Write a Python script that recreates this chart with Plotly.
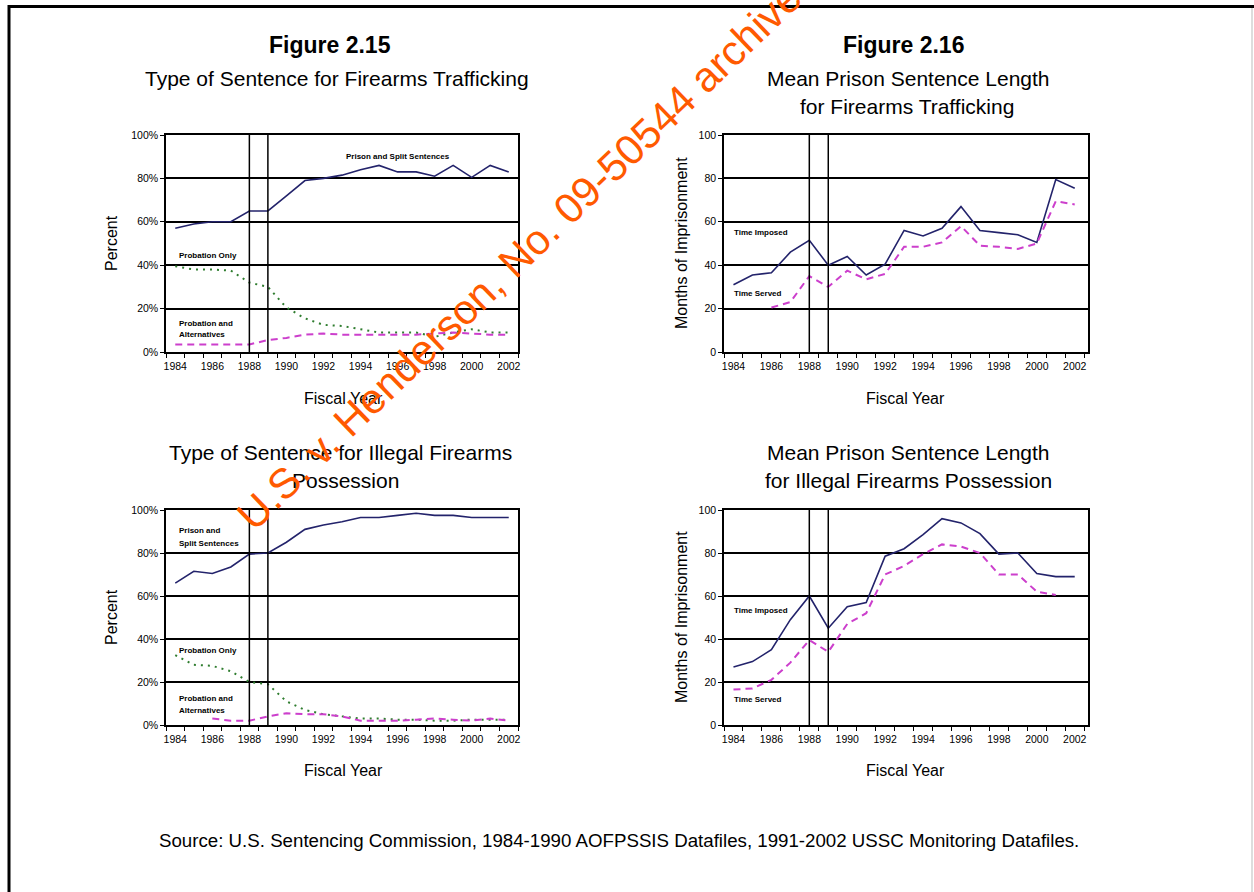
import plotly.graph_objects as go

W, H = 1254, 892

# ---------------- data ----------------
years = list(range(1984, 2003))
tick_years = list(range(1984, 2003, 2))
tick_labels = [str(y) for y in tick_years]
y_ticks = [0, 20, 40, 60, 80, 100]
pct_labels = ["0%", "20%", "40%", "60%", "80%", "100%"]
month_labels = ["0", "20", "40", "60", "80", "100"]
guideline_marks = [1988, 1989]

# Figure 2.15 (top): Type of Sentence for Firearms Trafficking (percent)
traf_prison = [57, 59, 60, 60, 65, 65, 72, 79, 80, 81.5, 84, 86, 83, 83, 81, 86, 80.5, 86, 83]
traf_prob_only = [39.5, 38, 38, 37.5, 32, 30, 20.5, 15.5, 12.5, 12, 10.5, 9, 9, 9, 7, 9, 10.5, 9, 9]
traf_prob_alt = [3.5, 3.5, 3.5, 3.5, 3.5, 5.5, 6.5, 8, 8.5, 8, 8, 8, 8, 8, 8.5, 9, 8.5, 8, 8]

# Figure 2.16 (top): Mean Prison Sentence Length for Firearms Trafficking (months)
traf_imposed = [31, 35.5, 36.5, 46, 51.5, 40, 44, 35.5, 40.5, 56, 53.5, 57, 67, 56, 55, 54, 50.5, 79.5, 75.5]
traf_served = [None, None, 20.5, 23, 35, 30, 37.5, 33.5, 36, 48.5, 48.5, 50.5, 58, 49, 48.5, 47.5, 50, 69.5, 68]

# Figure 2.15 (bottom): Type of Sentence for Illegal Firearms Possession (percent)
poss_prison = [66, 71.5, 70.5, 73.5, 79.5, 80, 85, 91, 93, 94.5, 96.5, 96.5, 97.5, 98.5, 97.5, 97.5, 96.5, 96.5, 96.5]
poss_prob_only = [32.5, 28, 27.5, 25, 20, 19, 11, 7, 5, 4, 3, 3, 2.5, 2.5, 2, 2, 2.5, 2.5, 2.5]
poss_prob_alt = [None, None, 3, 2, 2, 4, 5.5, 5, 5, 4, 2, 2, 2, 2.5, 3, 2.5, 2, 3, 2]

# Figure 2.16 (bottom): Mean Prison Sentence Length for Illegal Firearms Possession (months)
poss_imposed = [27, 29.5, 35, 49, 60, 45, 55, 57, 78.5, 82, 88.5, 96, 94, 89, 79.5, 80, 70.5, 69, 69]
poss_served = [16.5, 17, 21, 29, 39.5, 34, 47, 52, 70, 74, 79.5, 84, 83, 80, 70, 70, 62, 60.5, None]

# ---------------- styling ----------------
NAVY = "#23236b"
PINK = "#cc3fcc"
GREEN = "#2f7d2f"
FONT = "Liberation Sans, Arial, sans-serif"


def px(x):
    return x / W


def py(y):
    return 1 - y / H


panels = {
    1: dict(x=(166, 518), y=(135, 352), xr=[1983.5, 2002.5], labels=pct_labels),
    2: dict(x=(724, 1088), y=(135, 352), xr=[1983.5, 2002.7], labels=month_labels),
    3: dict(x=(166, 518), y=(510, 725), xr=[1983.5, 2002.5], labels=pct_labels),
    4: dict(x=(724, 1088), y=(510, 725), xr=[1983.5, 2002.7], labels=month_labels),
}

fig = go.Figure()

series = [
    (1, traf_prison, NAVY, "solid", 1.6),
    (1, traf_prob_only, GREEN, "2px,5px", 2),
    (1, traf_prob_alt, PINK, "7px,5px", 2),
    (2, traf_imposed, NAVY, "solid", 1.6),
    (2, traf_served, PINK, "7px,5px", 2),
    (3, poss_prison, NAVY, "solid", 1.6),
    (3, poss_prob_only, GREEN, "2px,5px", 2),
    (3, poss_prob_alt, PINK, "7px,5px", 2),
    (4, poss_imposed, NAVY, "solid", 1.6),
    (4, poss_served, PINK, "7px,5px", 2),
]

for p, vals, col, dash, w in series:
    sfx = "" if p == 1 else str(p)
    fig.add_trace(go.Scatter(
        x=years, y=vals, mode="lines",
        line=dict(color=col, width=w, dash=dash),
        xaxis="x" + sfx, yaxis="y" + sfx,
        showlegend=False, hoverinfo="skip",
    ))

layout = dict(
    template="none",
    width=W, height=H, autosize=False,
    margin=dict(l=0, r=0, t=0, b=0, pad=0, autoexpand=False),
    paper_bgcolor="white", plot_bgcolor="white",
    showlegend=False,
    font=dict(family=FONT, color="black"),
)

shapes = []
for p, d in panels.items():
    sfx = "" if p == 1 else str(p)
    layout["xaxis" + sfx] = dict(
        domain=[px(d["x"][0]), px(d["x"][1])],
        anchor="y" + sfx,
        range=d["xr"],
        automargin=False,
        tickvals=tick_years, ticktext=tick_labels,
        tickfont=dict(family=FONT, size=10.5, color="black"),
        ticklabelstandoff=4,
        ticks="", showgrid=False, zeroline=False,
        showline=True, mirror=True, linecolor="black", linewidth=1.5,
        minor=dict(tick0=1983.5, dtick=1, ticks="outside", ticklen=4,
                   tickcolor="black", showgrid=False),
        fixedrange=True,
    )
    layout["yaxis" + sfx] = dict(
        domain=[py(d["y"][1]), py(d["y"][0])],
        anchor="x" + sfx,
        range=[0, 100],
        automargin=False,
        tickvals=y_ticks, ticktext=d["labels"],
        tickfont=dict(family=FONT, size=10.5, color="black"),
        ticks="outside", ticklen=4, tickcolor="black",
        showgrid=True, gridcolor="black", gridwidth=1.5,
        zeroline=False,
        showline=True, mirror=True, linecolor="black", linewidth=1.5,
        fixedrange=True,
    )
    for gx in guideline_marks:
        shapes.append(dict(type="line", xref="x" + sfx, yref="y" + sfx + " domain",
                           x0=gx, x1=gx, y0=0, y1=1,
                           line=dict(color="black", width=1.5)))

# page border
shapes.append(dict(type="line", xref="paper", yref="paper", x0=px(8), x1=1, y0=py(6.5), y1=py(6.5),
                   line=dict(color="black", width=3)))
shapes.append(dict(type="line", xref="paper", yref="paper", x0=px(9), x1=px(9), y0=py(5), y1=0,
                   line=dict(color="black", width=3)))
shapes.append(dict(type="line", xref="paper", yref="paper", x0=px(1252), x1=px(1252), y0=py(8), y1=0,
                   line=dict(color="#bbbbbb", width=1)))
layout["shapes"] = shapes

ann = []


def text(x, y, s, size, bold=False, xanchor="center", angle=0, color="black"):
    ann.append(dict(
        x=px(x), y=py(y), xref="paper", yref="paper",
        text=("<b>%s</b>" % s) if bold else s,
        showarrow=False, xanchor=xanchor, yanchor="middle",
        textangle=angle,
        font=dict(family=FONT, size=size, color=color),
    ))


# titles
text(330, 45, "Figure 2.15", 23, bold=True)
text(904, 45, "Figure 2.16", 23, bold=True)
text(337, 79, "Type of Sentence for Firearms Trafficking", 21)
text(908, 79, "Mean Prison Sentence Length", 21)
text(907, 107, "for Firearms Trafficking", 21)
text(340, 453, "Type of Sentence for Illegal Firearms", 21)
text(345, 481, "Possession", 21)
text(909, 453, "Mean Prison Sentence Length", 21)
text(908, 481, "for Illegal Firearms Possession", 21)

# axis titles
for yc, cy in ((398, 243), (770, 617)):
    text(343, yc, "Fiscal Year", 16)
    text(905, yc, "Fiscal Year", 16)
    text(111, cy, "Percent", 16, angle=-90)
    text(681, cy, "Months of Imprisonment", 16, angle=-90)

# series labels inside the plots
small = 8
text(398, 156, "Prison and Split Sentences", small, bold=True)
text(177, 255, "Probation Only", small, bold=True, xanchor="left")
text(177, 323, "Probation and", small, bold=True, xanchor="left")
text(177, 334, "Alternatives", small, bold=True, xanchor="left")
text(732, 233, "Time Imposed", small, bold=True, xanchor="left")
text(732, 293, "Time Served", small, bold=True, xanchor="left")
text(177, 530, "Prison and", small, bold=True, xanchor="left")
text(177, 543, "Split Sentences", small, bold=True, xanchor="left")
text(177, 650, "Probation Only", small, bold=True, xanchor="left")
text(177, 698, "Probation and", small, bold=True, xanchor="left")
text(177, 710, "Alternatives", small, bold=True, xanchor="left")
text(732, 610, "Time Imposed", small, bold=True, xanchor="left")
text(732, 699, "Time Served", small, bold=True, xanchor="left")

# source
text(619, 840, "Source: U.S. Sentencing Commission, 1984-1990 AOFPSSIS Datafiles, 1991-2002 USSC Monitoring Datafiles.", 18.7)

# archive stamp
text(527, 248, "U.S. v. Henderson, No. 09-50544 archived", 42, angle=-44, color="#ff5a00")

layout["annotations"] = ann
fig.update_layout(**layout)
fig.write_html(
    "out.html",
    config={"displayModeBar": False},
    post_script=(
        "document.documentElement.style.margin='0';"
        "document.body.style.margin='0';document.body.style.overflow='hidden';"
        "var gd=document.getElementById('{plot_id}');"
        "gd.style.position='absolute';gd.style.left='0px';gd.style.top='0px';"
    ),
)
